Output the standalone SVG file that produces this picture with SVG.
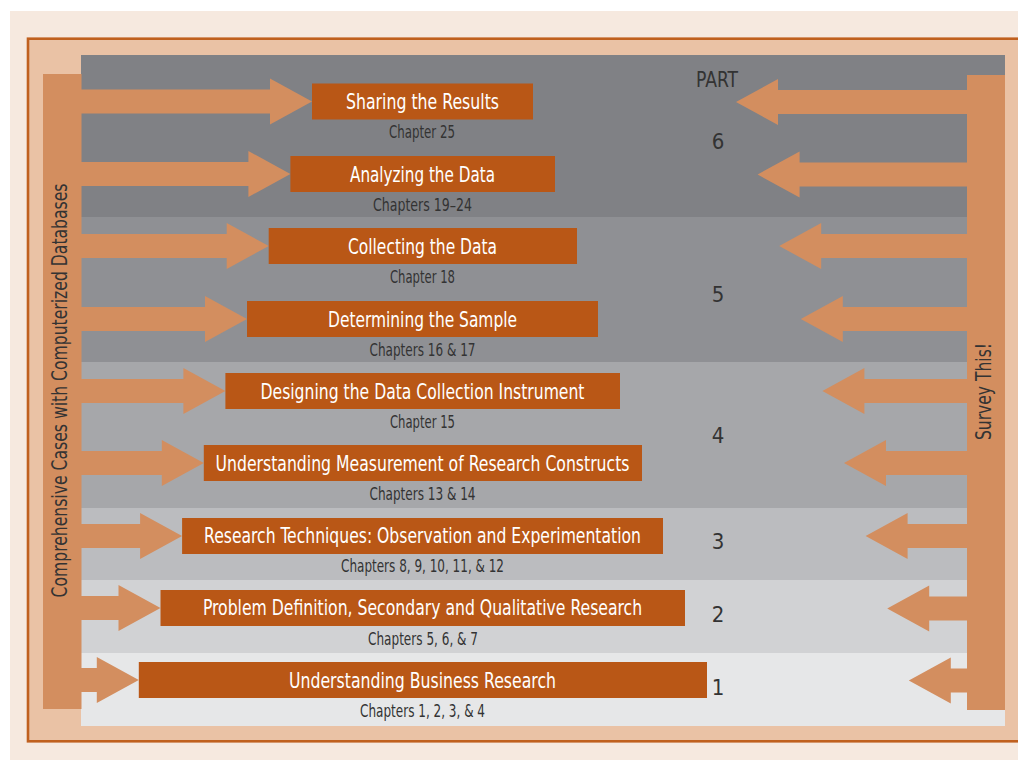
<svg xmlns="http://www.w3.org/2000/svg" width="1018" height="760" viewBox="0 0 1018 760">
<style>
.lbl{font-family:"Liberation Sans Narrow","DejaVu Sans Condensed","Liberation Sans",Arial,sans-serif;font-size:22px;fill:#ffffff;text-anchor:middle}
.ch{font-family:"Liberation Sans Narrow","DejaVu Sans Condensed","Liberation Sans",Arial,sans-serif;font-size:17.5px;fill:#333333;text-anchor:middle}
.num{font-family:"Liberation Sans Narrow","DejaVu Sans Condensed","Liberation Sans",Arial,sans-serif;font-size:22px;fill:#333333;text-anchor:middle}
.side{font-family:"Liberation Sans Narrow","DejaVu Sans Condensed","Liberation Sans",Arial,sans-serif;font-size:22px;fill:#333333;text-anchor:middle}
.box{fill:#B95716}
.arr{fill:#D38E5F}
</style>
<rect x="0" y="0" width="1018" height="760" fill="#ffffff"/>
<rect x="10" y="11" width="1008" height="749" fill="#F6E9DF"/>
<rect x="28" y="38.7" width="1010" height="702.6" fill="#EAC2A5" stroke="#C0601E" stroke-width="2.6"/>
<g id="bands">
<rect x="81" y="55" width="924" height="162" fill="#808185"/>
<rect x="81" y="217" width="924" height="145" fill="#8F9094"/>
<rect x="81" y="362" width="924" height="146" fill="#A6A7AA"/>
<rect x="81" y="508" width="924" height="72" fill="#BBBCBF"/>
<rect x="81" y="580" width="924" height="73" fill="#D1D2D4"/>
<rect x="81" y="653" width="924" height="73" fill="#E6E7E8"/>
</g>
<g id="left-bar">
<rect class="arr" x="43" y="74" width="38.5" height="635"/>
<text class="side" transform="translate(67,390.5) rotate(-90)" textLength="414" lengthAdjust="spacingAndGlyphs">Comprehensive Cases with Computerized Databases</text>
</g>
<g id="right-bar">
<rect class="arr" x="967" y="75" width="38" height="635"/>
<text class="side" transform="translate(991,391.5) rotate(-90)" textLength="97" lengthAdjust="spacingAndGlyphs">Survey This!</text>
</g>
<g id="connectors">
<polygon class="arr" points="80,89.5 270,89.5 270,78.5 312,101.5 270,124.5 270,113.5 80,113.5"/>
<polygon class="arr" points="80,162 248.4,162 248.4,151 290.4,174 248.4,197 248.4,186 80,186"/>
<polygon class="arr" points="80,234 226.7,234 226.7,223 268.7,246 226.7,269 226.7,258 80,258"/>
<polygon class="arr" points="80,307 205,307 205,296 247,319 205,342 205,331 80,331"/>
<polygon class="arr" points="80,379 183.4,379 183.4,368 225.4,391 183.4,414 183.4,403 80,403"/>
<polygon class="arr" points="80,451 161.8,451 161.8,440 203.8,463 161.8,486 161.8,475 80,475"/>
<polygon class="arr" points="80,524 140.1,524 140.1,513 182.1,536 140.1,559 140.1,548 80,548"/>
<polygon class="arr" points="80,596 118.5,596 118.5,585 160.5,608 118.5,631 118.5,620 80,620"/>
<polygon class="arr" points="80,668 96.8,668 96.8,657 138.8,680 96.8,703 96.8,692 80,692"/>
<polygon class="arr" points="736,102 778,79 778,90 968,90 968,114 778,114 778,125"/>
<polygon class="arr" points="757.6,174.5 799.6,151.5 799.6,162.5 968,162.5 968,186.5 799.6,186.5 799.6,197.5"/>
<polygon class="arr" points="779.2,246 821.2,223 821.2,234 968,234 968,258 821.2,258 821.2,269"/>
<polygon class="arr" points="800.8,319 842.8,296 842.8,307 968,307 968,331 842.8,331 842.8,342"/>
<polygon class="arr" points="822.4,391 864.4,368 864.4,379 968,379 968,403 864.4,403 864.4,414"/>
<polygon class="arr" points="844,463 886,440 886,451 968,451 968,475 886,475 886,486"/>
<polygon class="arr" points="865.6,536 907.6,513 907.6,524 968,524 968,548 907.6,548 907.6,559"/>
<polygon class="arr" points="887.2,608.5 929.2,585.5 929.2,596.5 968,596.5 968,620.5 929.2,620.5 929.2,631.5"/>
<polygon class="arr" points="908.8,680.5 950.8,657.5 950.8,668.5 968,668.5 968,692.5 950.8,692.5 950.8,703.5"/>
</g>
<g id="part-labels">
<text class="num" x="717" y="87" textLength="42" lengthAdjust="spacingAndGlyphs">PART</text>
<text class="num" x="718" y="149">6</text>
<text class="num" x="718" y="302">5</text>
<text class="num" x="718" y="443">4</text>
<text class="num" x="718" y="549">3</text>
<text class="num" x="718" y="622">2</text>
<text class="num" x="718" y="695">1</text>
</g>
<g id="node-sharing">
<rect class="box" x="312" y="83.5" width="221" height="36"/>
<text class="lbl" x="422.5" y="109" textLength="153" lengthAdjust="spacingAndGlyphs">Sharing the Results</text>
<text class="ch" x="422" y="138" textLength="66" lengthAdjust="spacingAndGlyphs">Chapter 25</text>
</g>
<g id="node-analyzing">
<rect class="box" x="290.4" y="156" width="264.6" height="36"/>
<text class="lbl" x="422.5" y="181.5" textLength="145" lengthAdjust="spacingAndGlyphs">Analyzing the Data</text>
<text class="ch" x="422.5" y="210.5" textLength="99" lengthAdjust="spacingAndGlyphs">Chapters 19–24</text>
</g>
<g id="node-collecting">
<rect class="box" x="268.7" y="228" width="308.3" height="36"/>
<text class="lbl" x="422.5" y="253.5" textLength="149" lengthAdjust="spacingAndGlyphs">Collecting the Data</text>
<text class="ch" x="422.5" y="282.5" textLength="65" lengthAdjust="spacingAndGlyphs">Chapter 18</text>
</g>
<g id="node-determining">
<rect class="box" x="247" y="301" width="351" height="36"/>
<text class="lbl" x="422.5" y="326.5" textLength="189" lengthAdjust="spacingAndGlyphs">Determining the Sample</text>
<text class="ch" x="422.5" y="355.5" textLength="106" lengthAdjust="spacingAndGlyphs">Chapters 16 &amp; 17</text>
</g>
<g id="node-designing">
<rect class="box" x="225.4" y="373" width="394.6" height="36"/>
<text class="lbl" x="422.5" y="398.5" textLength="324" lengthAdjust="spacingAndGlyphs">Designing the Data Collection Instrument</text>
<text class="ch" x="422.5" y="427.5" textLength="65" lengthAdjust="spacingAndGlyphs">Chapter 15</text>
</g>
<g id="node-measurement">
<rect class="box" x="203.8" y="445" width="438.2" height="36"/>
<text class="lbl" transform="translate(422.5,470.5) scale(0.85,1)" x="0" y="0" textLength="487" lengthAdjust="spacingAndGlyphs">Understanding Measurement of Research Constructs</text>
<text class="ch" x="422.5" y="499.5" textLength="106" lengthAdjust="spacingAndGlyphs">Chapters 13 &amp; 14</text>
</g>
<g id="node-techniques">
<rect class="box" x="182.1" y="518" width="480.9" height="36"/>
<text class="lbl" transform="translate(422.5,542.5) scale(0.8,1)" x="0" y="0" textLength="546" lengthAdjust="spacingAndGlyphs">Research Techniques: Observation and Experimentation</text>
<text class="ch" x="422.5" y="572" textLength="163" lengthAdjust="spacingAndGlyphs">Chapters 8, 9, 10, 11, &amp; 12</text>
</g>
<g id="node-problem">
<rect class="box" x="160.5" y="590" width="524.5" height="36"/>
<text class="lbl" transform="translate(422.5,615) scale(0.8,1)" x="0" y="0" textLength="549" lengthAdjust="spacingAndGlyphs">Problem Definition, Secondary and Qualitative Research</text>
<text class="ch" x="423" y="644.5" textLength="110" lengthAdjust="spacingAndGlyphs">Chapters 5, 6, &amp; 7</text>
</g>
<g id="node-business">
<rect class="box" x="138.8" y="662" width="568.2" height="36"/>
<text class="lbl" x="422.5" y="687.5" textLength="267" lengthAdjust="spacingAndGlyphs">Understanding Business Research</text>
<text class="ch" x="422.5" y="717" textLength="125" lengthAdjust="spacingAndGlyphs">Chapters 1, 2, 3, &amp; 4</text>
</g>
</svg>
